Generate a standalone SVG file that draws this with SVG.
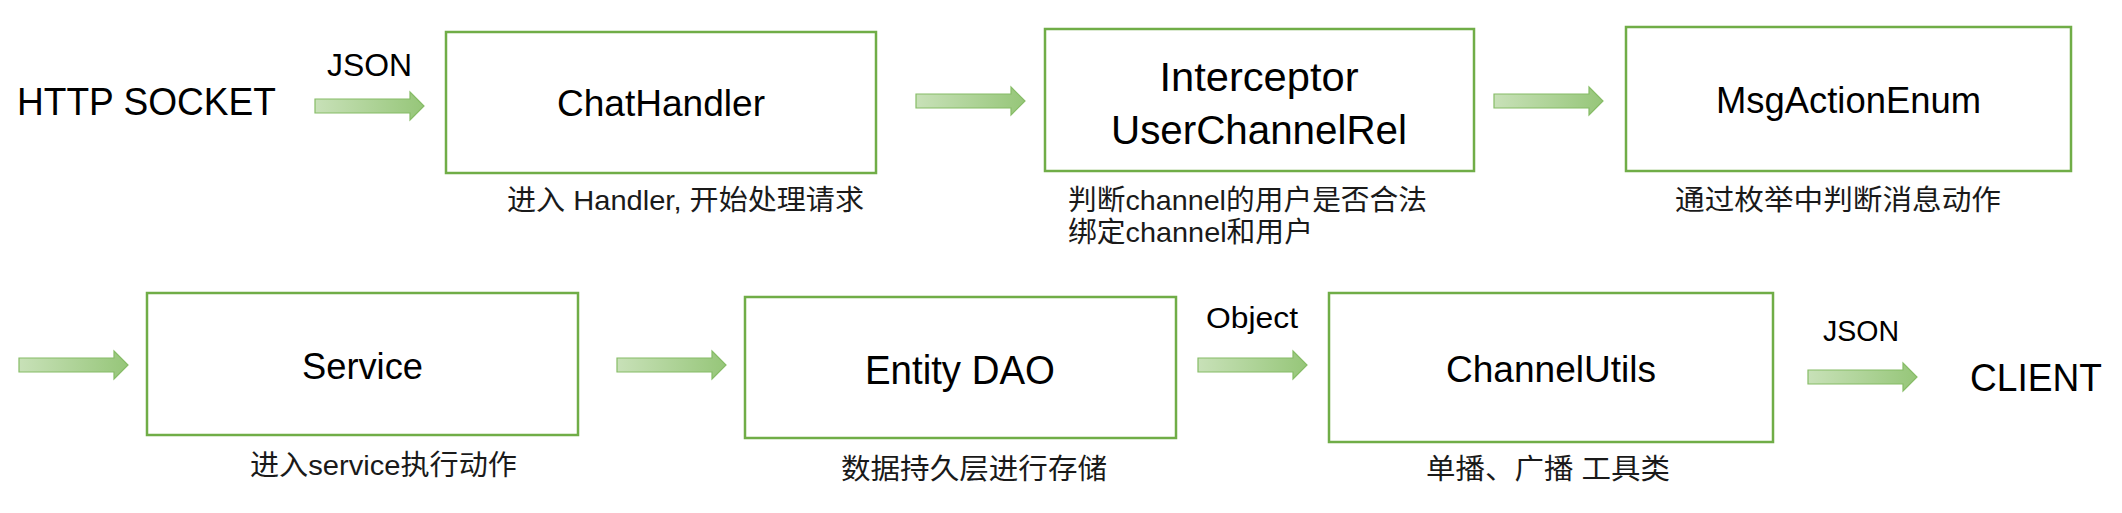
<svg xmlns="http://www.w3.org/2000/svg" xmlns:xlink="http://www.w3.org/1999/xlink" width="2122" height="513" viewBox="0 0 2122 513">
<style>
.box{fill:#ffffff;stroke:#70AD47;stroke-width:2.5}
.t{font-family:"Liberation Sans","Noto Sans CJK SC",sans-serif;fill:#000000}
.lbl{font-size:36px;text-anchor:middle}
.cap{font-family:"Liberation Sans","Noto Sans CJK SC",sans-serif;font-size:28px;fill:#1a1a1a}
.arr{fill:url(#ag);stroke:#86BC66;stroke-width:1.2}
</style>
<defs>
<linearGradient id="ag" x1="0" y1="0" x2="1" y2="0">
<stop offset="0" stop-color="#C8E1B8"/>
<stop offset="1" stop-color="#96C679"/>
</linearGradient>
<path id="arrow" d="M0,-7 H95 V-14 L109,0 L95,14 V7 H0 Z"/>
</defs>
<rect width="2122" height="513" fill="#ffffff"/>

<g id="connectors">
<use xlink:href="#arrow" class="arr" transform="translate(315,106)"/>
<use xlink:href="#arrow" class="arr" transform="translate(916,101)"/>
<use xlink:href="#arrow" class="arr" transform="translate(1494,101)"/>
<use xlink:href="#arrow" class="arr" transform="translate(19,365)"/>
<use xlink:href="#arrow" class="arr" transform="translate(617,365)"/>
<use xlink:href="#arrow" class="arr" transform="translate(1198,365)"/>
<use xlink:href="#arrow" class="arr" transform="translate(1808,377)"/>
<text class="t" x="327" y="76" font-size="32" textLength="85" lengthAdjust="spacingAndGlyphs">JSON</text>
<text class="t" x="1206" y="328" font-size="30" textLength="92" lengthAdjust="spacingAndGlyphs">Object</text>
<text class="t" x="1823" y="341" font-size="30" textLength="76" lengthAdjust="spacingAndGlyphs">JSON</text>
</g>

<g id="http-socket">
<text class="t" x="17" y="115" font-size="39" textLength="259" lengthAdjust="spacingAndGlyphs">HTTP SOCKET</text>
</g>

<g id="chat-handler">
<rect class="box" x="446" y="32" width="430" height="141"/>
<text class="t lbl" x="661" y="116" textLength="208" lengthAdjust="spacingAndGlyphs">ChatHandler</text>
<text class="cap" x="507" y="210" textLength="357" lengthAdjust="spacingAndGlyphs">进入 Handler, 开始处理请求</text>
</g>

<g id="interceptor">
<rect class="box" x="1045" y="29" width="429" height="142"/>
<text class="t" x="1259" y="91" font-size="40" text-anchor="middle" textLength="199" lengthAdjust="spacingAndGlyphs">Interceptor</text>
<text class="t" x="1259" y="144" font-size="40" text-anchor="middle" textLength="296" lengthAdjust="spacingAndGlyphs">UserChannelRel</text>
<text class="cap" x="1068" y="210" textLength="359" lengthAdjust="spacingAndGlyphs">判断channel的用户是否合法</text>
<text class="cap" x="1068" y="242" textLength="245" lengthAdjust="spacingAndGlyphs">绑定channel和用户</text>
</g>

<g id="msg-action-enum">
<rect class="box" x="1626" y="27" width="445" height="144"/>
<text class="t lbl" x="1848.5" y="113" textLength="265" lengthAdjust="spacingAndGlyphs">MsgActionEnum</text>
<text class="cap" x="1675" y="210" textLength="326" lengthAdjust="spacingAndGlyphs">通过枚举中判断消息动作</text>
</g>

<g id="service">
<rect class="box" x="147" y="293" width="431" height="142"/>
<text class="t lbl" x="362.5" y="379" textLength="121" lengthAdjust="spacingAndGlyphs">Service</text>
<text class="cap" x="250" y="475" textLength="267" lengthAdjust="spacingAndGlyphs">进入service执行动作</text>
</g>

<g id="entity-dao">
<rect class="box" x="745" y="297" width="431" height="141"/>
<text class="t" x="960" y="384" font-size="40" text-anchor="middle" textLength="190" lengthAdjust="spacingAndGlyphs">Entity DAO</text>
<text class="cap" x="841" y="479" textLength="266" lengthAdjust="spacingAndGlyphs">数据持久层进行存储</text>
</g>

<g id="channel-utils">
<rect class="box" x="1329" y="293" width="444" height="149"/>
<text class="t lbl" x="1551" y="382" textLength="210" lengthAdjust="spacingAndGlyphs">ChannelUtils</text>
<text class="cap" x="1426" y="479" textLength="244" lengthAdjust="spacingAndGlyphs">单播、广播 工具类</text>
</g>

<g id="client">
<text class="t" x="1970" y="391" font-size="38" textLength="132" lengthAdjust="spacingAndGlyphs">CLIENT</text>
</g>
</svg>
